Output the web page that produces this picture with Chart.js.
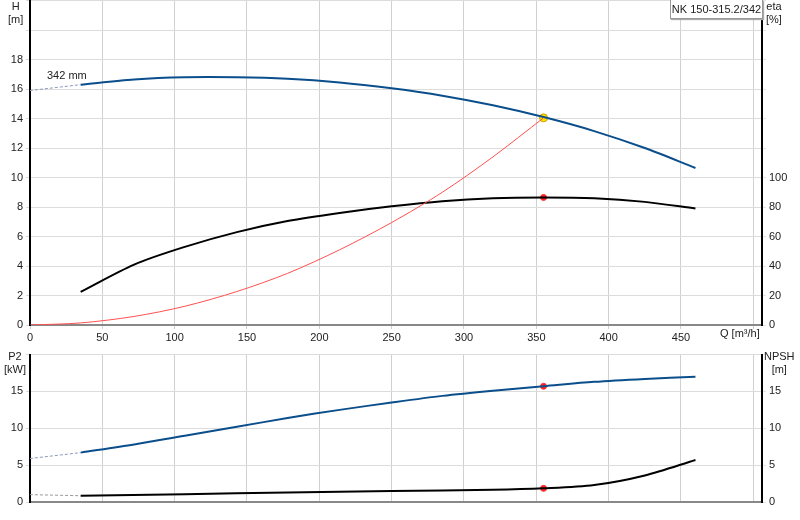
<!DOCTYPE html><html><head><meta charset="utf-8">
<script src="https://cdn.jsdelivr.net/npm/chart.js@4"></script>
<style>
body{margin:0;background:#fff;font-family:"Liberation Sans",Arial,sans-serif;font-size:11px;color:#222;overflow:hidden}
#wrap{position:relative;width:800px;height:520px;overflow:hidden}
canvas{position:absolute;left:0}
.t{position:absolute;line-height:13px;text-align:center;white-space:nowrap}
</style></head><body><div id="wrap">
<canvas id="c1" style="top:-9px" width="800" height="354"></canvas>
<canvas id="c2" style="top:345px" width="800" height="175"></canvas>
<div class="t" style="left:8px;top:0">H<br>[m]</div>
<div class="t" style="left:766px;top:0">eta<br>[%]</div>
<div class="t" style="left:4px;top:350px">P2<br>[kW]</div>
<div class="t" style="left:764px;top:350px">NPSH<br>[m]</div>
<div class="t" style="left:47px;top:69px">342 mm</div>
<div class="t" style="left:720px;top:327px">Q [m³/h]</div>
<div class="t" style="left:670px;top:0;width:91px;height:18px;line-height:18px;border:1px solid #999;border-top:none;background:#fff;box-shadow:1px 1px 1px #aaa">NK 150-315.2/342</div>
</div>
<script>
const qH=[35,72,107,143,178,214,250,285,320,355,390,425,460];
const H=[16.3,16.65,16.8,16.8,16.7,16.45,16.05,15.55,14.9,14.1,13.15,12.0,10.65];
const qHd=[0,35], Hd=[15.9,16.3];
const eta=[22.5,41,53,63,70.5,76,80.5,84,86,86.5,86,83.5,79];
const qSys=[0,35,72,107,143,178,214,250,285,320,355];
const sys=[0,0.14,0.58,1.27,2.27,3.5,5.1,6.95,9.0,11.4,14.05];
const duty={q:355,H:14.05,eta:86.5,P2:15.7,NPSH:1.85};
const P2=[6.7,7.8,9.0,10.2,11.4,12.5,13.5,14.4,15.1,15.7,16.3,16.7,17.0];
const P2d=[5.9,6.7];
const qN=[35,107,178,250,320,355,390,425,460];
const NPSH=[0.85,1.05,1.3,1.5,1.65,1.85,2.3,3.6,5.7];
const Nd=[1.0,0.85];
const xTicks=[0,50,100,150,200,250,300,350,400,450];
const pts=(xs,ys)=>xs.map((x,i)=>({x,y:ys[i]}));
const blue='#0a4e8c';
Chart.defaults.font.family='"Liberation Sans",Arial,sans-serif';
Chart.defaults.font.size=11;Chart.defaults.color='#222';
const ln=(data,color,w,axis,dash)=>({type:'line',data,borderColor:color,borderWidth:w,pointRadius:0,yAxisID:axis,borderDash:dash||[],tension:0.3,fill:false});
const dot=(x,y,c,axis)=>({type:'scatter',data:[{x,y}],backgroundColor:c,borderColor:c==='#ffe000'?'#c9a000':'#ff3030',borderWidth:1,pointRadius:c==='#ffe000'?4:3,yAxisID:axis});
const fixW=w=>function(s){s.width=w;};
const grid={color:'#dcdcdc',lineWidth:1,tickLength:4,drawTicks:true};
function xScale(show){return {type:'linear',min:0,max:506,afterBuildTicks:s=>{s.ticks=[0,50,100,150,200,250,300,350,400,450,500].map(v=>({value:v}));},
 ticks:{display:show,callback:v=>xTicks.includes(v)?v:'',maxRotation:0,padding:2},grid:{color:'#d0d0d0',drawTicks:show,tickLength:4},border:{color:'#888',width:2},afterFit:s=>{s.height=show?20:0;}};}
new Chart(document.getElementById('c1'),{data:{datasets:[
 ln(pts(qHd,Hd),'#8899bb',1,'yH',[3,2]),
 ln(pts(qSys,sys),'#ff5050',1,'yH'),
 ln(pts(qH,H),blue,2,'yH'),
 ln(pts(qH,eta),'#000',2,'yE'),
 dot(duty.q,duty.eta,'#ff2020','yE'),
 dot(duty.q,duty.H,'#ffe000','yH')]},
 options:{responsive:false,animation:false,plugins:{legend:{display:false},tooltip:{enabled:false}},layout:{padding:{top:0,bottom:0,left:0,right:0}},
 scales:{x:xScale(true),
 yH:{position:'left',min:0,max:22,ticks:{stepSize:2,callback:v=>(v<=18?v:''),padding:3},grid:grid,border:{color:'#000',width:2},afterFit:fixW(30)},
 yE:{position:'right',min:0,max:220,ticks:{stepSize:20,callback:v=>(v<=100?v:''),padding:3},grid:{drawOnChartArea:false,tickLength:4},border:{color:'#000',width:2},afterFit:fixW(38)}}}});
new Chart(document.getElementById('c2'),{data:{datasets:[
 ln(pts(qHd,P2d),'#8899bb',1,'yP',[3,2]),
 ln(pts(qHd,Nd),'#999',1,'yN',[3,2]),
 ln(pts(qH,P2),blue,2,'yP'),
 ln(pts(qN,NPSH),'#000',2,'yN'),
 dot(duty.q,duty.P2,'#ff2020','yP'),
 dot(duty.q,duty.NPSH,'#ff2020','yN')]},
 options:{responsive:false,animation:false,plugins:{legend:{display:false},tooltip:{enabled:false}},layout:{padding:{top:3,bottom:18}},
 scales:{x:xScale(false),
 yP:{position:'left',min:0,max:20,ticks:{stepSize:5,callback:v=>(v<20?v:''),padding:3},grid:grid,border:{color:'#000',width:2},afterFit:fixW(30)},
 yN:{position:'right',min:0,max:20,ticks:{stepSize:5,callback:v=>(v<20?v:''),padding:3},grid:{drawOnChartArea:false,tickLength:4},border:{color:'#000',width:2},afterFit:fixW(38)}}}});
</script></body></html>
